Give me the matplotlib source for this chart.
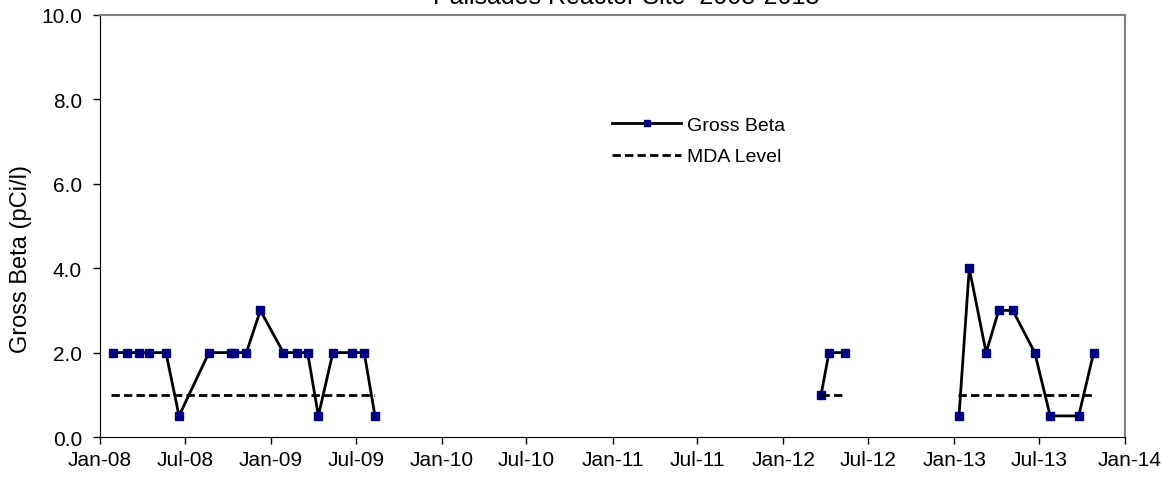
import numpy as np
import pandas as pd
import matplotlib
matplotlib.use("Agg")
import matplotlib.pyplot as plt
import matplotlib.dates as mdates
from matplotlib.transforms import ScaledTranslation

plt.rcParams["font.family"] = ["Liberation Sans", "DejaVu Sans"]

TITLE = "Palisades Reactor Site  2008-2013"

# Gross beta results, split where sampling stopped
DATES_A = ["2008-01-28", "2008-02-28", "2008-03-25", "2008-04-15", "2008-05-21",
           "2008-06-18", "2008-08-21", "2008-10-08", "2008-10-13", "2008-11-09",
           "2008-12-09", "2009-01-27", "2009-02-25", "2009-03-20", "2009-04-12",
           "2009-05-13", "2009-06-22", "2009-07-19", "2009-08-11"]
BETA_A = [2, 2, 2, 2, 2, 0.5, 2, 2, 2, 2, 3, 2, 2, 2, 0.5, 2, 2, 2, 0.5]

DATES_B = ["2012-03-22", "2012-04-08", "2012-05-12"]
BETA_B = [1, 2, 2]

DATES_C = ["2013-01-11", "2013-02-02", "2013-03-10", "2013-04-06", "2013-05-06",
           "2013-06-22", "2013-07-25", "2013-09-24", "2013-10-26"]
BETA_C = [0.5, 4, 2, 3, 3, 2, 0.5, 0.5, 2]

MDA = 1.0
MDA_SPANS = [("2008-01-25", "2009-08-09"), ("2012-03-22", "2012-05-12"),
             ("2013-01-09", "2013-10-25")]

W, H = 1164, 481
fig = plt.figure(figsize=(W / 100, H / 100), dpi=100)
ax = fig.add_axes([100 / W, 1 - 438 / H, 1025 / W, 422 / H])

for i, (d, v) in enumerate([(DATES_A, BETA_A), (DATES_B, BETA_B), (DATES_C, BETA_C)]):
    ax.plot(pd.to_datetime(d), v, color="black", lw=2, marker="s", ms=5.5,
            mfc="#000080", mec="#000080", label="Gross Beta" if i == 0 else None)

for i, (s, e) in enumerate(MDA_SPANS):
    ax.plot(pd.to_datetime([s, e]), [MDA, MDA], color="black", lw=2, ls=(0, (3, 1.5)),
            label="MDA Level" if i == 0 else None)

ax.set_xlim(pd.Timestamp("2008-01-01"), pd.Timestamp("2014-01-01"))
ax.set_ylim(0, 10)
ax.set_yticks(np.arange(0, 10.1, 2))
ax.yaxis.set_major_formatter(plt.FormatStrFormatter("%.1f"))
ax.xaxis.set_major_locator(mdates.MonthLocator(bymonth=[1, 7]))
ax.xaxis.set_major_formatter(mdates.DateFormatter("%b-%y"))
ax.tick_params(labelsize=15, direction="out", length=5, width=1)
ax.tick_params(axis="y", pad=8)
ax.tick_params(axis="x", pad=4)
ax.set_ylabel("Gross Beta (pCi/l)", fontsize=17)
ax.yaxis.set_label_coords(-0.0663, 0.424)

for side in ["top", "right"]:
    ax.spines[side].set_color("#808080")
    ax.spines[side].set_linewidth(1.5)
for side in ["left", "bottom"]:
    ax.spines[side].set_color("black")

# last date label is nudged so it stays inside the figure
fig.canvas.draw()
last = ax.get_xticklabels()[-1]
last.set_transform(last.get_transform() + ScaledTranslation(0.05, 0, fig.dpi_scale_trans))

fig.text(626 / W, 1 - 3.5 / H, TITLE, ha="center", va="baseline", fontsize=18)

ax.legend(loc="center left", bbox_to_anchor=(612 / W, 1 - 142 / H),
          bbox_transform=fig.transFigure, frameon=False, fontsize=14,
          handlelength=3.55, handletextpad=0.31, labelspacing=0.7,
          borderpad=0, borderaxespad=0, markerscale=0.9)

fig.savefig("out.png", dpi=100)
